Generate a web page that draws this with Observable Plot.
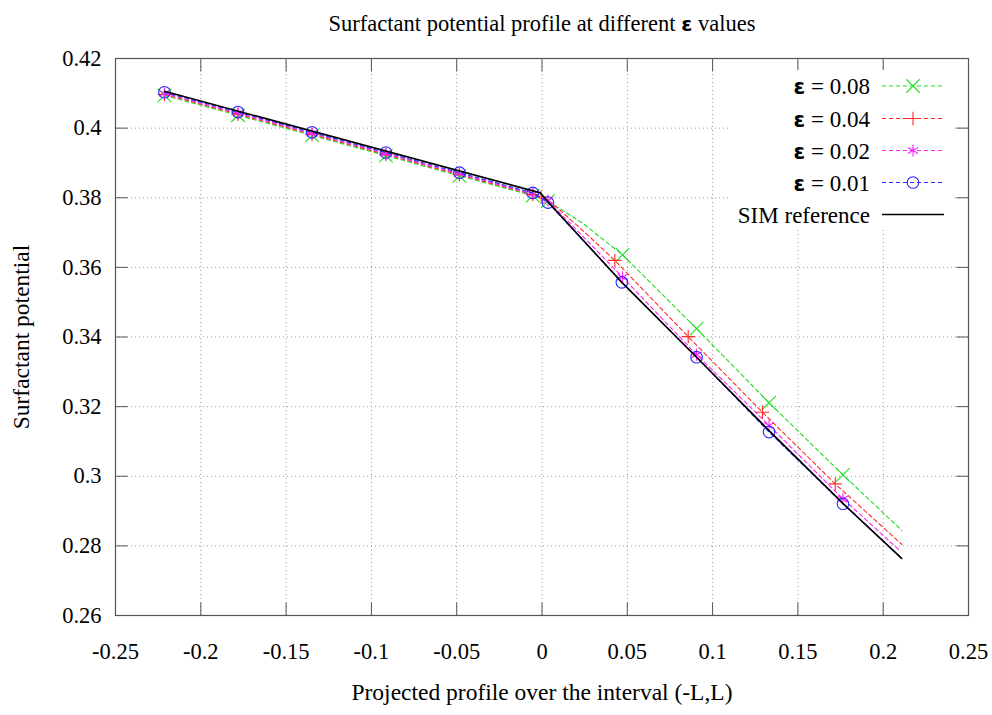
<!DOCTYPE html>
<html><head><meta charset="utf-8">
<script src="https://cdn.jsdelivr.net/npm/d3@7"></script>
<script src="https://cdn.jsdelivr.net/npm/@observablehq/plot@0.6"></script>
<style>
body{margin:0;background:#fff;}
#wrap{position:relative;width:992px;height:715px;}
#wrap svg.legend{position:absolute;left:0;top:0;pointer-events:none;}
</style></head><body><div id="wrap"></div>
<script>
// ---- data ----
const titleBefore = "Surfactant potential profile at different ";
const titleEps = "ε";
const titleAfter = " values";
const xLabel = "Projected profile over the interval (-L,L)";
const yLabel = "Surfactant potential";
const xTicks = [-0.25, -0.2, -0.15, -0.1, -0.05, 0, 0.05, 0.1, 0.15, 0.2, 0.25];
const yTicks = [0.26, 0.28, 0.3, 0.32, 0.34, 0.36, 0.38, 0.4, 0.42];

const seriesNames = ["0.08", "0.04", "0.02", "0.01"];
const seriesColors = ["#22dd22", "#ff2a2a", "#ff22ff", "#2a2aff"];
const seriesSymbols = ["times", "plus", "asterisk", "circle"];
const refName = "SIM reference";

// eps = 0.08 (markers + extra line points)
const g_mx = [-0.2213, -0.1782, -0.1348, -0.0915, -0.0484, -0.0054, 0.0035, 0.0472, 0.0906, 0.1331, 0.1764];
const g_my = [0.4094, 0.4037, 0.3979, 0.3921, 0.3863, 0.3806, 0.3790, 0.3636, 0.3424, 0.3211, 0.3004];
const g_ex = [0.0123, 0.024, 0.2110];
const g_ey = [0.3763, 0.3726, 0.2844];
// eps = 0.04
const r_mx = [-0.2213, -0.1782, -0.1348, -0.0915, -0.0484, -0.0054, -0.0005, 0.0427, 0.0857, 0.1292, 0.1719];
const r_my = [0.4097, 0.4040, 0.3982, 0.3924, 0.3866, 0.3809, 0.3802, 0.3620, 0.3401, 0.3184, 0.2978];
const r_ex = [0.0086, 0.0261, 0.2110];
const r_ey = [0.3773, 0.3696, 0.2804];
// eps = 0.02
const m_mx = [-0.2213, -0.1782, -0.1348, -0.0915, -0.0484, -0.0054, 0.0035, 0.0472, 0.0906, 0.1331, 0.1764];
const m_my = [0.4100, 0.4043, 0.3985, 0.3927, 0.3869, 0.3811, 0.3792, 0.3572, 0.3349, 0.3146, 0.2935];
const m_ex = [0.2096];
const m_ey = [0.2787];
// eps = 0.01
const b_mx = [-0.2213, -0.1782, -0.1348, -0.0915, -0.0484, -0.0054, 0.0035, 0.0468, 0.0906, 0.1331, 0.1764];
const b_my = [0.4103, 0.4046, 0.3988, 0.3930, 0.3872, 0.3814, 0.3786, 0.3557, 0.3342, 0.3127, 0.2921];
const b_ex = [0.2108];
const b_ey = [0.2765];
// SIM reference
const ref_x = [-0.2213, -0.0010, 0.0037, 0.0468, 0.0906, 0.1331, 0.1764, 0.2108];
const ref_y = [0.4106, 0.3814, 0.3787, 0.3557, 0.3342, 0.3131, 0.2922, 0.2764];

// ---- build tables ----
const pts = (xs, ys) => xs.map((x, i) => ({x, y: ys[i]}));
const marksData = [pts(g_mx, g_my), pts(r_mx, r_my), pts(m_mx, m_my), pts(b_mx, b_my)];
const extraData = [pts(g_ex, g_ey), pts(r_ex, r_ey), pts(m_ex, m_ey), pts(b_ex, b_ey)];
const lineData = marksData.map((m, i) => m.concat(extraData[i]).sort((a, b) => a.x - b.x));
const refData = pts(ref_x, ref_y);
const symR = {times: 6.2, plus: 4.4, asterisk: 5.6, circle: 5.8};

const W = 992, H = 715;
const marks = [
  Plot.gridX(xTicks, {stroke: "#999", strokeOpacity: 1, strokeDasharray: "1,3"}),
  Plot.gridY(yTicks, {stroke: "#999", strokeOpacity: 1, strokeDasharray: "1,3"})
];
seriesNames.forEach((n, i) => {
  marks.push(Plot.line(lineData[i], {x: "x", y: "y", stroke: seriesColors[i], strokeWidth: 1.1, strokeDasharray: "4,3"}));
  marks.push(Plot.dot(marksData[i], {x: "x", y: "y", symbol: seriesSymbols[i], r: symR[seriesSymbols[i]], stroke: seriesColors[i], fill: "none", strokeWidth: 1.1}));
});
marks.push(Plot.line(refData, {x: "x", y: "y", stroke: "#000", strokeWidth: 1.6}));
marks.push(Plot.frame({stroke: "#555", strokeWidth: 1.2}));
const fmt = d => String(d);
marks.push(
  Plot.axisX(xTicks, {anchor: "bottom", tickSize: 0, tickPadding: 28, tickFormat: fmt, fontSize: 22.5, label: null}),
  Plot.axisX(xTicks, {anchor: "bottom", tickSize: -12.5, text: null, label: null, stroke: "#555"}),
  Plot.axisX(xTicks, {anchor: "top", tickSize: -12.5, text: null, label: null, stroke: "#555"}),
  Plot.axisY(yTicks, {anchor: "left", tickSize: 0, tickPadding: 14, tickFormat: fmt, fontSize: 22.5, label: null}),
  Plot.axisY(yTicks, {anchor: "left", tickSize: -12.5, text: null, label: null, stroke: "#555"}),
  Plot.axisY(yTicks, {anchor: "right", tickSize: -12.5, text: null, label: null, stroke: "#555"}),
  Plot.text([titleBefore + titleEps + titleAfter], {frameAnchor: "top", dy: -43, text: d => d, fontSize: 22.5, fill: "#000", textAnchor: "middle", className: "ttl"}),
  Plot.text([xLabel], {frameAnchor: "bottom", dy: 84, text: d => d, fontSize: 23.5, fill: "#000", textAnchor: "middle"}),
  Plot.text([yLabel], {frameAnchor: "left", dx: -94, rotate: -90, text: d => d, fontSize: 23.5, fill: "#000", textAnchor: "middle"})
);

const chart = Plot.plot({
  width: W, height: H,
  marginLeft: 115, marginRight: 24, marginTop: 58, marginBottom: 100,
  x: {domain: [-0.25, 0.25]},
  y: {domain: [0.26, 0.42]},
  style: {fontFamily: "'Liberation Serif', 'Times New Roman', serif", fontSize: "22px", color: "#000", background: "#fff"},
  marks
});
const wrap = document.getElementById("wrap");
wrap.appendChild(chart);

// give the title's epsilon the symbol-font look of the original
const tnode = d3.select(chart).select(".ttl text");
if (!tnode.empty()) {
  tnode.text(null);
  tnode.append("tspan").text(titleBefore);
  tnode.append("tspan").style("font-family", "'DejaVu Sans', sans-serif").style("font-weight", "bold").style("font-size", "20px").text(titleEps);
  tnode.append("tspan").text(titleAfter);
}

// ---- legend (key box) ----
const lg = d3.select(wrap).append("svg").attr("class", "legend").attr("width", W).attr("height", H)
  .style("font-family", "'Liberation Serif', 'Times New Roman', serif").style("font-size", "23px");
lg.append("rect").attr("x", 728).attr("y", 70).attr("width", 224).attr("height", 160).attr("fill", "#fff");
const rowY = [86, 118.5, 150.5, 182.5, 214.5];
const textRight = 870, lineX1 = 882, lineX2 = 944, symX = 913;
const items = seriesNames.map((n, i) => ({eps: n, color: seriesColors[i], symbol: seriesSymbols[i]}))
  .concat([{ref: refName, color: "#000"}]);
items.forEach((it, i) => {
  const y = rowY[i];
  const t = lg.append("text").attr("x", textRight).attr("y", y).attr("dy", "0.35em").attr("text-anchor", "end").attr("fill", "#000");
  if (it.ref) t.text(it.ref);
  else {
    t.append("tspan").style("font-family", "'DejaVu Sans', sans-serif").style("font-weight", "bold").style("font-size", "21px").text("ε");
    t.append("tspan").text(" = " + it.eps);
  }
  lg.append("line").attr("x1", lineX1).attr("x2", lineX2).attr("y1", y).attr("y2", y)
    .attr("stroke", it.color).attr("stroke-width", it.ref ? 1.6 : 1.1).attr("stroke-dasharray", it.ref ? null : "4,3");
  if (it.symbol) {
    const typeMap = {times: d3.symbolTimes, plus: d3.symbolPlus, asterisk: d3.symbolAsterisk, circle: d3.symbolCircle};
    const r = symR[it.symbol];
    lg.append("path").attr("transform", `translate(${symX},${y})`)
      .attr("d", d3.symbol(typeMap[it.symbol], Math.PI * r * r)())
      .attr("fill", "none").attr("stroke", it.color).attr("stroke-width", 1.1);
  }
});
</script></body></html>
